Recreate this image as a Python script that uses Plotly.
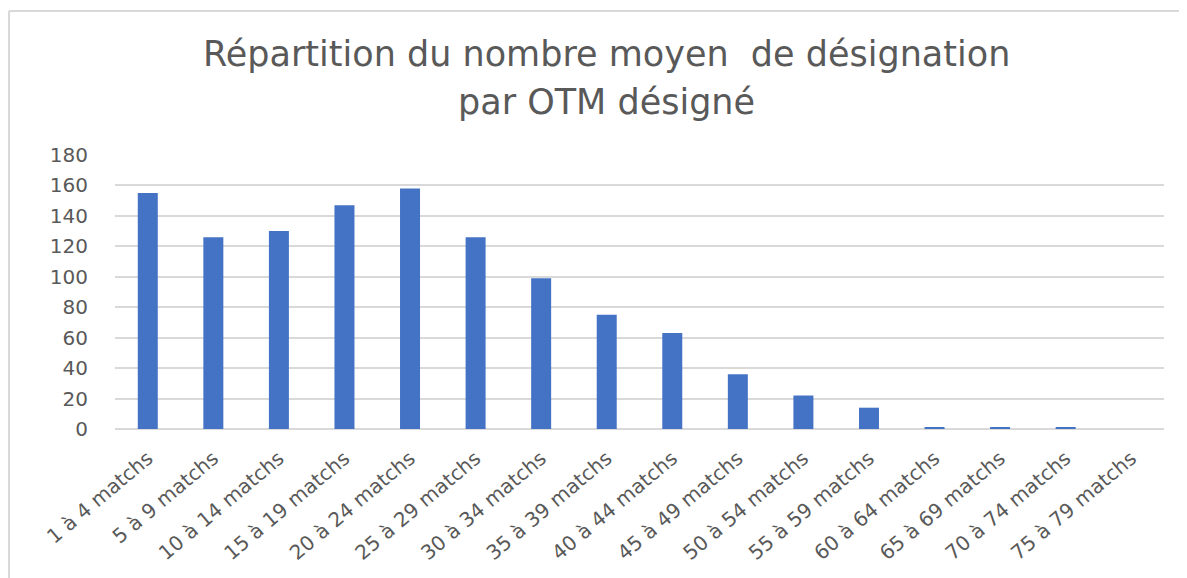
import plotly.graph_objects as go

categories = ["1 à 4 matchs", "5 à 9 matchs", "10 à 14 matchs", "15 à 19 matchs",
              "20 à 24 matchs", "25 à 29 matchs", "30 à 34 matchs", "35 à 39 matchs",
              "40 à 44 matchs", "45 à 49 matchs", "50 à 54 matchs", "55 à 59 matchs",
              "60 à 64 matchs", "65 à 69 matchs", "70 à 74 matchs", "75 à 79 matchs"]
values = [155, 126, 130, 147, 158, 126, 99, 75, 63, 36, 22, 14, 1, 1, 1, 0]
y_ticks = [0, 20, 40, 60, 80, 100, 120, 140, 160, 180]
title_line1 = "Répartition du nombre moyen\u00a0 de désignation"
title_line2 = "par OTM désigné"

# page has an 8px body margin; work in page pixels and convert
OFF = 8
W, H = 1187 - OFF, 578 - OFF
PL, PR, PT, PB = 115, 1164, 155, 429          # plot area in page pixels
L, T = PL - OFF, PT - OFF
R, B = W - (PR - OFF), H - (PB - OFF)
PW, PH = PR - PL, PB - PT

def px_x(x):
    return (x - PL) / PW

def px_y(y):
    return (PB - y) / PH

TXT = "#595959"
FONT = "DejaVu Sans"

fig = go.Figure(go.Bar(
    x=categories, y=values,
    marker=dict(color="#4472C4", line=dict(width=0)),
))

fig.update_layout(
    width=W, height=H,
    margin=dict(l=L, r=R, t=T, b=B, autoexpand=False),
    paper_bgcolor="white", plot_bgcolor="white",
    bargap=0.695,
    showlegend=False,
    font=dict(family=FONT, color=TXT),
    xaxis=dict(
        tickangle=-40, tickfont=dict(size=20, color=TXT, family=FONT),
        showgrid=False, showline=False, ticks="", automargin=False,
        ticklabelstandoff=13,
    ),
    yaxis=dict(
        range=[0, 180], tickvals=y_ticks, ticktext=[str(v) for v in y_ticks],
        tickfont=dict(size=20, color=TXT, family=FONT),
        showgrid=True, gridcolor="#D9D9D9", gridwidth=1.5,
        zeroline=True, zerolinecolor="#D9D9D9", zerolinewidth=1.5,
        showline=False, ticks="", ticklabelstandoff=26, automargin=False,
    ),
    annotations=[
        dict(text=title_line1, xref="paper", yref="paper", x=px_x(606), y=px_y(54),
             xanchor="center", yanchor="middle", showarrow=False,
             font=dict(size=35, color=TXT, family=FONT)),
        dict(text=title_line2, xref="paper", yref="paper", x=px_x(606), y=px_y(102),
             xanchor="center", yanchor="middle", showarrow=False,
             font=dict(size=35, color=TXT, family=FONT)),
    ],
    shapes=[
        dict(type="line", xref="paper", yref="paper", x0=px_x(9), x1=px_x(1187), y0=px_y(11), y1=px_y(11),
             line=dict(color="#D9D9D9", width=2)),
        dict(type="line", xref="paper", yref="paper", x0=px_x(9), x1=px_x(9), y0=px_y(11), y1=px_y(578),
             line=dict(color="#D9D9D9", width=2)),
    ],
)

fig.write_html("out.html")
